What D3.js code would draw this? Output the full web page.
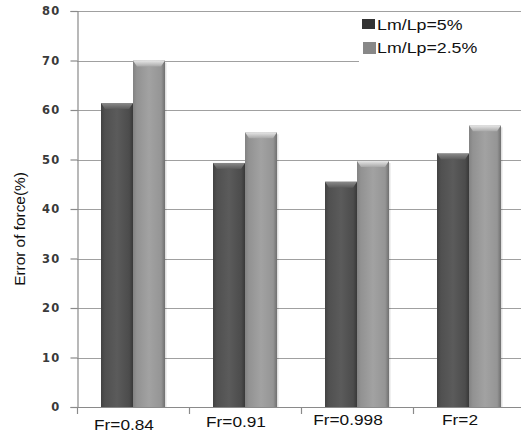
<!DOCTYPE html>
<html>
<head>
<meta charset="utf-8">
<script src="https://cdn.jsdelivr.net/npm/d3@7"></script>
<style>
  body { margin: 0; background: #fff; }
  svg { display: block; }
</style>
</head>
<body>
<div id="chart-area"></div>
<script>
// data
var categories = ["Fr=0.84", "Fr=0.91", "Fr=0.998", "Fr=2"]
var seriesNames = ["Lm/Lp=5%", "Lm/Lp=2.5%"]
var lm5 = [61.4, 49.3, 45.5, 51.2]
var lm25 = [70.0, 55.5, 49.7, 56.9]
var yTicks = [0, 10, 20, 30, 40, 50, 60, 70, 80]

var width = 521, height = 432

var svg = d3.select("#chart-area")
  .append("svg")
  .attr("width", width)
  .attr("height", height)

var defs = svg.append("defs")

// cylinder-ish shading for the bars
function sideGrad(id, stops) {
  var g = defs.append("linearGradient").attr("id", id)
    .attr("x1", "0%").attr("x2", "100%").attr("y1", "0%").attr("y2", "0%")
  stops.forEach(function(s) {
    g.append("stop").attr("offset", s[0]).attr("stop-color", s[1])
  })
}
sideGrad("dark", [["0%", "#424242"], ["12%", "#505050"], ["50%", "#5b5b5b"], ["88%", "#4c4c4c"], ["100%", "#383838"]])
sideGrad("light", [["0%", "#828282"], ["12%", "#929292"], ["50%", "#a2a2a2"], ["88%", "#959595"], ["100%", "#707070"]])

function topGrad(id, c1, c2) {
  var g = defs.append("linearGradient").attr("id", id)
    .attr("x1", "0%").attr("x2", "0%").attr("y1", "0%").attr("y2", "100%")
  g.append("stop").attr("offset", "0%").attr("stop-color", c1)
  g.append("stop").attr("offset", "100%").attr("stop-color", c2)
}
topGrad("darkTop", "#8a8a8a", "#5a5a5a")
topGrad("lightTop", "#e8e8e8", "#a8a8a8")

var x = d3.scaleBand()
  .domain(categories)
  .range([77, 525])
  .paddingInner(0)
  .paddingOuter(0)

var x1 = d3.scaleBand()
  .domain(seriesNames)
  .range([0, x.bandwidth()])
  .paddingInner(0)
  .paddingOuter(0.75)

var y = d3.scaleLinear()
  .domain([0, 80])
  .range([407, 11])

// grid lines
svg.append("g")
  .selectAll("line")
  .data(yTicks)
  .enter()
  .append("line")
  .attr("x1", 77)
  .attr("x2", width)
  .attr("y1", function(d) { return Math.round(y(d)) + 0.5 })
  .attr("y2", function(d) { return Math.round(y(d)) + 0.5 })
  .attr("stroke", "#a0a0a0")
  .attr("stroke-width", 1.2)

// y axis
var yAxis = d3.axisLeft(y).tickValues(yTicks).tickSize(7).tickPadding(10)
var gy = svg.append("g")
  .attr("transform", "translate(77.5,0)")
  .call(yAxis)
gy.select(".domain").attr("stroke", "#8a8a8a").attr("stroke-width", 1.2)
gy.selectAll(".tick line").attr("stroke", "#8a8a8a").attr("stroke-width", 1.2)
gy.selectAll(".tick text")
  .attr("font-family", "DejaVu Sans")
  .attr("font-size", 11.5)
  .attr("letter-spacing", 1.2)
  .attr("font-weight", "bold")
  .attr("fill", "#3a3a3a")

// x axis: ticks at the category boundaries
var gx = svg.append("g")
gx.append("line")
  .attr("x1", 77).attr("x2", width)
  .attr("y1", 407.5).attr("y2", 407.5)
  .attr("stroke", "#8a8a8a").attr("stroke-width", 1.2)
gx.selectAll(".xtick")
  .data(categories)
  .enter()
  .append("line")
  .attr("class", "xtick")
  .attr("x1", function(d) { return Math.round(x(d)) + 0.5 })
  .attr("x2", function(d) { return Math.round(x(d)) + 0.5 })
  .attr("y1", 407)
  .attr("y2", 414)
  .attr("stroke", "#8a8a8a")
  .attr("stroke-width", 1.2)

// the source text is stretched a little sideways
var labelDrop = [430, 427, 425, 425]
gx.selectAll(".xlab")
  .data(categories)
  .enter()
  .append("text")
  .attr("class", "xlab")
  .attr("transform", function(d, i) {
    return "translate(" + (x(d) + x.bandwidth() / 2 - 9) + "," + labelDrop[i] + ") scale(1.15,1)"
  })
  .attr("text-anchor", "middle")
  .attr("font-family", "Liberation Sans, Arial, sans-serif")
  .attr("font-size", 15)
  .attr("fill", "#111")
  .text(function(d) { return d })

// bars
var series = [
  { name: seriesNames[0], values: lm5, fill: "url(#dark)", top: "url(#darkTop)" },
  { name: seriesNames[1], values: lm25, fill: "url(#light)", top: "url(#lightTop)" }
]

series.forEach(function(s) {
  var g = svg.append("g")
  var bw = x1.bandwidth()

  // soft shadow on the right
  g.selectAll(".shadow")
    .data(s.values)
    .enter()
    .append("rect")
    .attr("x", function(d, i) { return x(categories[i]) + x1(s.name) + 1.5 })
    .attr("y", function(d) { return y(d) + 2 })
    .attr("width", bw)
    .attr("height", function(d) { return 407 - y(d) - 2 })
    .attr("fill", "#000")
    .attr("opacity", 0.12)

  g.selectAll(".bar")
    .data(s.values)
    .enter()
    .append("rect")
    .attr("x", function(d, i) { return x(categories[i]) + x1(s.name) })
    .attr("y", function(d) { return y(d) })
    .attr("width", bw)
    .attr("height", function(d) { return 407 - y(d) })
    .attr("fill", s.fill)

  // bevelled top
  g.selectAll(".top")
    .data(s.values)
    .enter()
    .append("path")
    .attr("d", function(d, i) {
      var x0 = x(categories[i]) + x1(s.name), y0 = y(d)
      return "M" + x0 + "," + y0 + "L" + (x0 + bw) + "," + y0 +
        "L" + (x0 + bw - 4) + "," + (y0 + 6) + "L" + (x0 + 4) + "," + (y0 + 6) + "Z"
    })
    .attr("fill", s.top)
})

// legend
var legend = svg.append("g")
legend.append("rect")
  .attr("x", 359).attr("y", 14)
  .attr("width", 162).attr("height", 50)
  .attr("fill", "#fff")

var legendColors = ["#333333", "#888888"]
var legendY = [19, 42]
var legendX = [362, 363]
seriesNames.forEach(function(name, i) {
  legend.append("rect")
    .attr("x", legendX[i]).attr("y", legendY[i])
    .attr("width", 13).attr("height", i === 0 ? 10 : 12)
    .attr("fill", legendColors[i])
  legend.append("text")
    .attr("transform", "translate(377," + (legendY[i] + 11) + ") scale(1.27,1)")
    .attr("font-family", "Liberation Sans, Arial, sans-serif")
    .attr("font-size", 14)
    .attr("fill", "#111")
    .text(name)
})

// y axis title
svg.append("text")
  .attr("transform", "translate(25,229) rotate(-90) scale(1.1,1)")
  .attr("text-anchor", "middle")
  .attr("font-family", "Liberation Sans, Arial, sans-serif")
  .attr("font-size", 14)
  .attr("fill", "#111")
  .text("Error of force(%)")
</script>
</body>
</html>
